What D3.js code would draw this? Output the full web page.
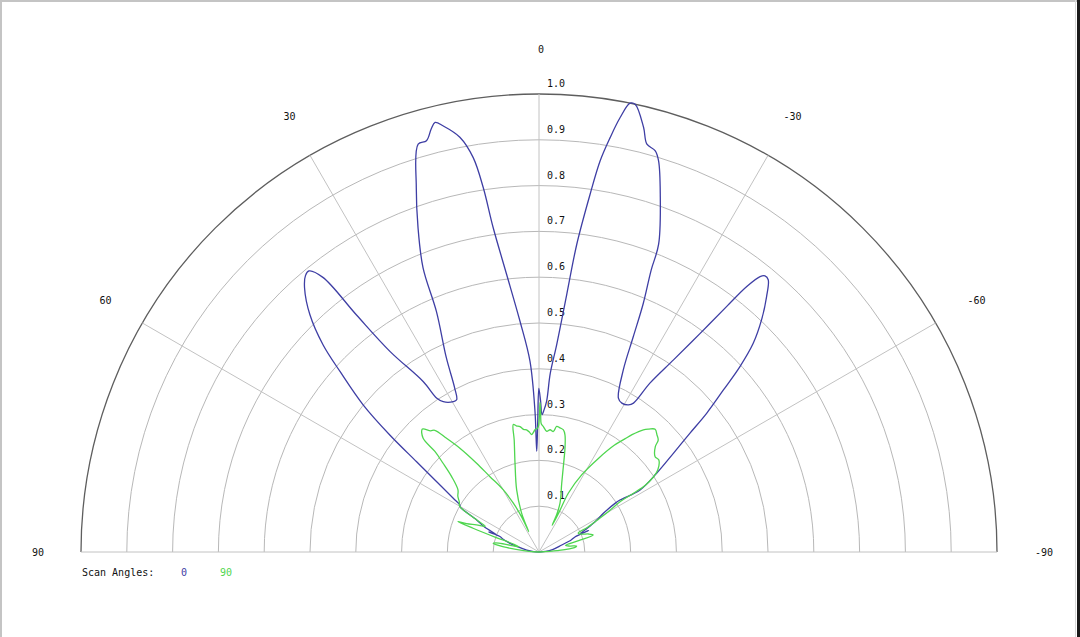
<!DOCTYPE html>
<html>
<head>
<meta charset="utf-8">
<script src="https://cdn.jsdelivr.net/npm/d3@7"></script>
<style>
  html, body { margin: 0; padding: 0; background: #fff; }
  svg { display: block; }
  text { font-family: "DejaVu Sans Mono", "Liberation Mono", monospace; font-size: 10px; fill: #111; }
</style>
</head>
<body>
<svg id="chart" width="1080" height="637"></svg>
<script>
// ---- data (angle in degrees, positive = left of 0; value 0..1) ----
const ringTicks = [0.1, 0.2, 0.3, 0.4, 0.5, 0.6, 0.7, 0.8, 0.9, 1.0];
const angleTicks = [90, 60, 30, 0, -30, -60, -90];
const seriesNames = ["0", "90"];
const legendTitle = "Scan Angles:";

const blueAngles = [90, 85, 80.8, 76, 73.3, 70, 68.6, 68.3, 67.8, 65.5, 62.8, 60.2, 59.25, 57.9, 55.5, 53.6, 51.9, 50.1, 47.8, 46.2,
  44.0, 41.6, 40.2, 39.3, 38.2, 37.6, 36.6, 34.2, 33.6, 32.5, 29.7, 28.4, 27.2, 25.5, 23.1, 22.2, 20.45, 18.6, 16.5, 15.3,
  14.3, 13.6, 12.7, 10.8, 9.47, 8.7, 8.04, 6.65, 4.72, 2.71, 1.63, 1.3, 0.6, 0.06, -0.6, -1.25, -2.0, -2.9, -3.6, -4.89,
  -6.15, -7.0, -8.13, -8.88, -9.74, -10.58, -11.47, -12.12, -13.83, -14.82, -16.16, -17.0, -18.72, -21.24, -21.7, -22.75, -23.65, -24.85, -27.3, -29.1,
  -31.3, -32.4, -33.3, -35.0, -36.4, -37.4, -38.05, -38.76, -39.3, -40.1, -41.7, -43.8, -45.75, -47.3, -48.7, -50.4, -51.8, -53.7, -56.2, -58.45,
  -57.3, -57.4, -59.0, -61.5, -64.4, -66.3, -66.6, -67.4, -69.5, -72.9, -80, -85, -90];
const blueValues = [0, 0.012, 0.027, 0.05, 0.066, 0.085, 0.09, 0.118, 0.1, 0.13, 0.153, 0.199, 0.201, 0.221, 0.271, 0.332, 0.414, 0.500, 0.586, 0.653,
  0.720, 0.771, 0.79, 0.793, 0.763, 0.653, 0.545, 0.450, 0.403, 0.389, 0.378, 0.378, 0.403, 0.47, 0.571, 0.67, 0.756, 0.84, 0.929, 0.931,
  0.953, 0.965, 0.954, 0.922, 0.873, 0.805, 0.715, 0.61, 0.506, 0.417, 0.307, 0.22, 0.28, 0.357, 0.33, 0.30, 0.31, 0.33, 0.39, 0.455,
  0.566, 0.677, 0.789, 0.864, 0.918, 0.965, 1.0, 1.0, 0.955, 0.921, 0.912, 0.893, 0.825, 0.721, 0.662, 0.589, 0.513, 0.438, 0.378, 0.372,
  0.376, 0.385, 0.441, 0.512, 0.593, 0.675, 0.736, 0.771, 0.779, 0.777, 0.747, 0.702, 0.653, 0.597, 0.536, 0.475, 0.419, 0.364, 0.309, 0.259,
  0.21, 0.197, 0.164, 0.14, 0.112, 0.098, 0.118, 0.085, 0.075, 0.052, 0.03, 0.015, 0];

const greenAngles = [90, 85, 81.5, 79.2, 77.5, 75.5, 72.5, 71.3, 70.2, 69.4, 68.6, 66.6, 64.5, 62.5, 60, 58, 55.5, 52.5, 49.2, 47.2,
  46.0, 45.5, 43.5, 41.8, 40.6, 39.1, 37.3, 35.1, 33.1, 29.9, 27.8, 26.3, 26.6, 25.2, 24.1, 19.8, 15.1, 12.5, 11.4, 10.2,
  8.6, 7.2, 5.8, 4.5, 3.6, 2.6, 1.9, 0.8, 0.3, -0.2, -0.4, -0.7, -1.0, -2.0, -3.7, -5.2, -6.8, -8.0, -9.6, -11.3,
  -12.5, -13.9, -15.9, -18.3, -23.3, -25.3, -26.3, -26.8, -26.5, -29, -32.4, -35.2, -37.2, -38.4, -40.5, -41.8, -43.4, -45.2, -46.8, -47.8,
  -50.6, -52.4, -55.4, -56.8, -57.8, -58.1, -58.2, -59.5, -61, -63, -64.2, -67, -70, -72.5, -74, -76, -79, -81, -83, -85.5, -90];
const greenValues = [0, 0.03, 0.08, 0.102, 0.09, 0.045, 0.06, 0.1, 0.153, 0.189, 0.17, 0.149, 0.13, 0.158, 0.2, 0.205, 0.215, 0.223, 0.252, 0.286,
  0.316, 0.355, 0.37, 0.355, 0.35, 0.32, 0.285, 0.237, 0.197, 0.157, 0.121, 0.085, 0.05, 0.075, 0.093, 0.144, 0.201, 0.25, 0.284, 0.28,
  0.277, 0.27, 0.268, 0.262, 0.257, 0.262, 0.267, 0.27, 0.274, 0.30, 0.326, 0.30, 0.28, 0.274, 0.264, 0.268, 0.265, 0.277, 0.275, 0.272,
  0.262, 0.237, 0.194, 0.158, 0.116, 0.09, 0.065, 0.095, 0.144, 0.193, 0.242, 0.285, 0.31, 0.327, 0.351, 0.36, 0.369, 0.363, 0.357, 0.343,
  0.328, 0.33, 0.315, 0.298, 0.275, 0.243, 0.209, 0.18, 0.15, 0.12, 0.095, 0.1, 0.115, 0.124, 0.09, 0.06, 0.068, 0.083, 0.078, 0.04, 0];

const seriesColors = ["#3e3ea4", "#4fd64f"];

// ---- layout ----
const cx = 539, cy = 552, R = 458;
const svg = d3.select("#chart");
svg.append("rect").attr("width", 1080).attr("height", 637).attr("fill", "#fff");

// frame
svg.append("line").attr("x1", 0).attr("x2", 1080).attr("y1", 1).attr("y2", 1).attr("stroke", "#c4c4c4").attr("stroke-width", 2);
svg.append("line").attr("x1", 1).attr("x2", 1).attr("y1", 0).attr("y2", 637).attr("stroke", "#c4c4c4").attr("stroke-width", 2);
svg.append("line").attr("x1", 1075.5).attr("x2", 1075.5).attr("y1", 0).attr("y2", 637).attr("stroke", "#d8d8d8").attr("stroke-width", 1);
svg.append("line").attr("x1", 1078.5).attr("x2", 1078.5).attr("y1", 0).attr("y2", 637).attr("stroke", "#1a1a1a").attr("stroke-width", 3);

const g = svg.append("g").attr("transform", `translate(${cx},${cy})`);
const r = d3.scaleLinear().domain([0, 1]).range([0, R]);
const rad = d => -d * Math.PI / 180;

// rings
ringTicks.forEach(t => {
  const p = d3.path();
  p.moveTo(-r(t), 0);
  p.arc(0, 0, r(t), Math.PI, 2 * Math.PI);
  g.append("path").attr("d", p.toString()).attr("fill", "none")
    .attr("stroke", t === 1 ? "#5e5e5e" : "#b8b8b8")
    .attr("stroke-width", t === 1 ? 1.3 : 1);
});

// spokes
angleTicks.forEach(a => {
  g.append("line")
    .attr("x1", 0).attr("y1", 0)
    .attr("x2", r(1) * Math.sin(rad(a))).attr("y2", -r(1) * Math.cos(rad(a)))
    .attr("stroke", "#c2c2c2").attr("stroke-width", 1);
});

// angle labels
const labelR = R + 45;
g.selectAll("text.ang").data(angleTicks).join("text")
  .attr("class", "ang")
  .attr("x", a => labelR * Math.sin(rad(a)) + 2)
  .attr("y", a => -labelR * Math.cos(rad(a)) + 3.5)
  .attr("text-anchor", "middle")
  .text(a => a);

// ring labels
g.selectAll("text.ring").data(ringTicks).join("text")
  .attr("class", "ring")
  .attr("x", 8)
  .attr("y", t => -r(t) - 7)
  .text(d3.format(".1f"));

// series
const line = d3.lineRadial()
  .angle(d => rad(d[0]))
  .radius(d => r(d[1]))
  .curve(d3.curveCatmullRom.alpha(0.5));
const blue = d3.zip(blueAngles, blueValues);
const green = d3.zip(greenAngles, greenValues);
[blue, green].forEach((s, i) => {
  g.append("path").attr("d", line(s)).attr("fill", "none")
    .attr("stroke", seriesColors[i]).attr("stroke-width", 1.3)
    .attr("stroke-linejoin", "round");
});

// legend
svg.append("text").attr("x", 82).attr("y", 576).text(legendTitle);
svg.selectAll("text.leg").data(seriesNames).join("text")
  .attr("class", "leg")
  .attr("x", (d, i) => 184 + i * 42)
  .attr("y", 576)
  .attr("text-anchor", "middle")
  .style("fill", (d, i) => seriesColors[i])
  .text(d => d);
</script>
</body>
</html>
